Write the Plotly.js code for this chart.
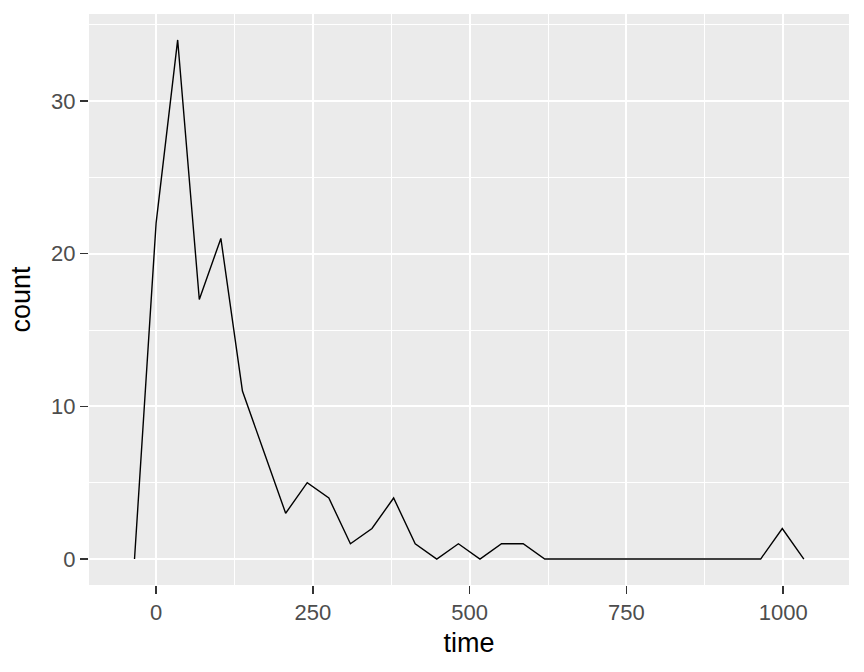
<!DOCTYPE html>
<html>
<head>
<meta charset="utf-8">
<script src="https://cdn.plot.ly/plotly-3.0.1.min.js"></script>
<style>html,body{margin:0;padding:0;background:#fff;}#chart{width:864px;height:672px;}</style>
</head>
<body>
<div id="chart"></div>
<script>
var time = [-34.4, 0, 34.4, 68.9, 103.3, 137.7, 172.2, 206.6, 241.0, 275.5, 309.9, 344.3,
            378.8, 413.2, 447.6, 482.1, 516.5, 550.9, 585.4, 619.8, 654.2, 688.7, 723.1,
            757.5, 792.0, 826.4, 860.8, 895.3, 929.7, 964.1, 998.6, 1033.0];
var count = [0, 22, 34, 17, 21, 11, 7, 3, 5, 4, 1, 2,
             4, 1, 0, 1, 0, 1, 1, 0, 0, 0, 0,
             0, 0, 0, 0, 0, 0, 0, 2, 0];
var xTicks = [0, 250, 500, 750, 1000];
var yTicks = [0, 10, 20, 30];

var trace = {
  x: time, y: count, type: 'scatter', mode: 'lines',
  line: {color: '#000000', width: 1.4},
  hoverinfo: 'skip'
};

var axisCommon = {
  showline: false, zeroline: false,
  gridcolor: '#FFFFFF', gridwidth: 2,
  ticks: 'outside', ticklen: 8, tickwidth: 1.4, tickcolor: '#333333',
  tickfont: {family: 'Liberation Sans, Arial, sans-serif', size: 22, color: '#4D4D4D'},
  tickmode: 'array'
};

var layout = {
  width: 864, height: 672,
  margin: {l: 89, r: 15, t: 14, b: 87},
  paper_bgcolor: '#FFFFFF', plot_bgcolor: '#EBEBEB',
  showlegend: false,
  xaxis: Object.assign({}, axisCommon, {
    range: [-107, 1105],
    tickvals: xTicks, ticktext: xTicks.map(String),
    minor: {tickmode: 'array', tickvals: [125, 375, 625, 875], showgrid: true, gridcolor: '#FFFFFF', gridwidth: 1, ticks: ''},
    title: {text: 'time', font: {family: 'Liberation Sans, Arial, sans-serif', size: 27, color: '#000000'}, standoff: 8}
  }),
  yaxis: Object.assign({}, axisCommon, {
    range: [-1.7, 35.7],
    tickvals: yTicks, ticktext: yTicks.map(String),
    minor: {tickmode: 'array', tickvals: [5, 15, 25, 35], showgrid: true, gridcolor: '#FFFFFF', gridwidth: 1, ticks: ''},
    title: {text: 'count', font: {family: 'Liberation Sans, Arial, sans-serif', size: 27, color: '#000000'}, standoff: 12}
  })
};

Plotly.newPlot('chart', [trace], layout, {displayModeBar: false, staticPlot: true});
</script>
</body>
</html>
